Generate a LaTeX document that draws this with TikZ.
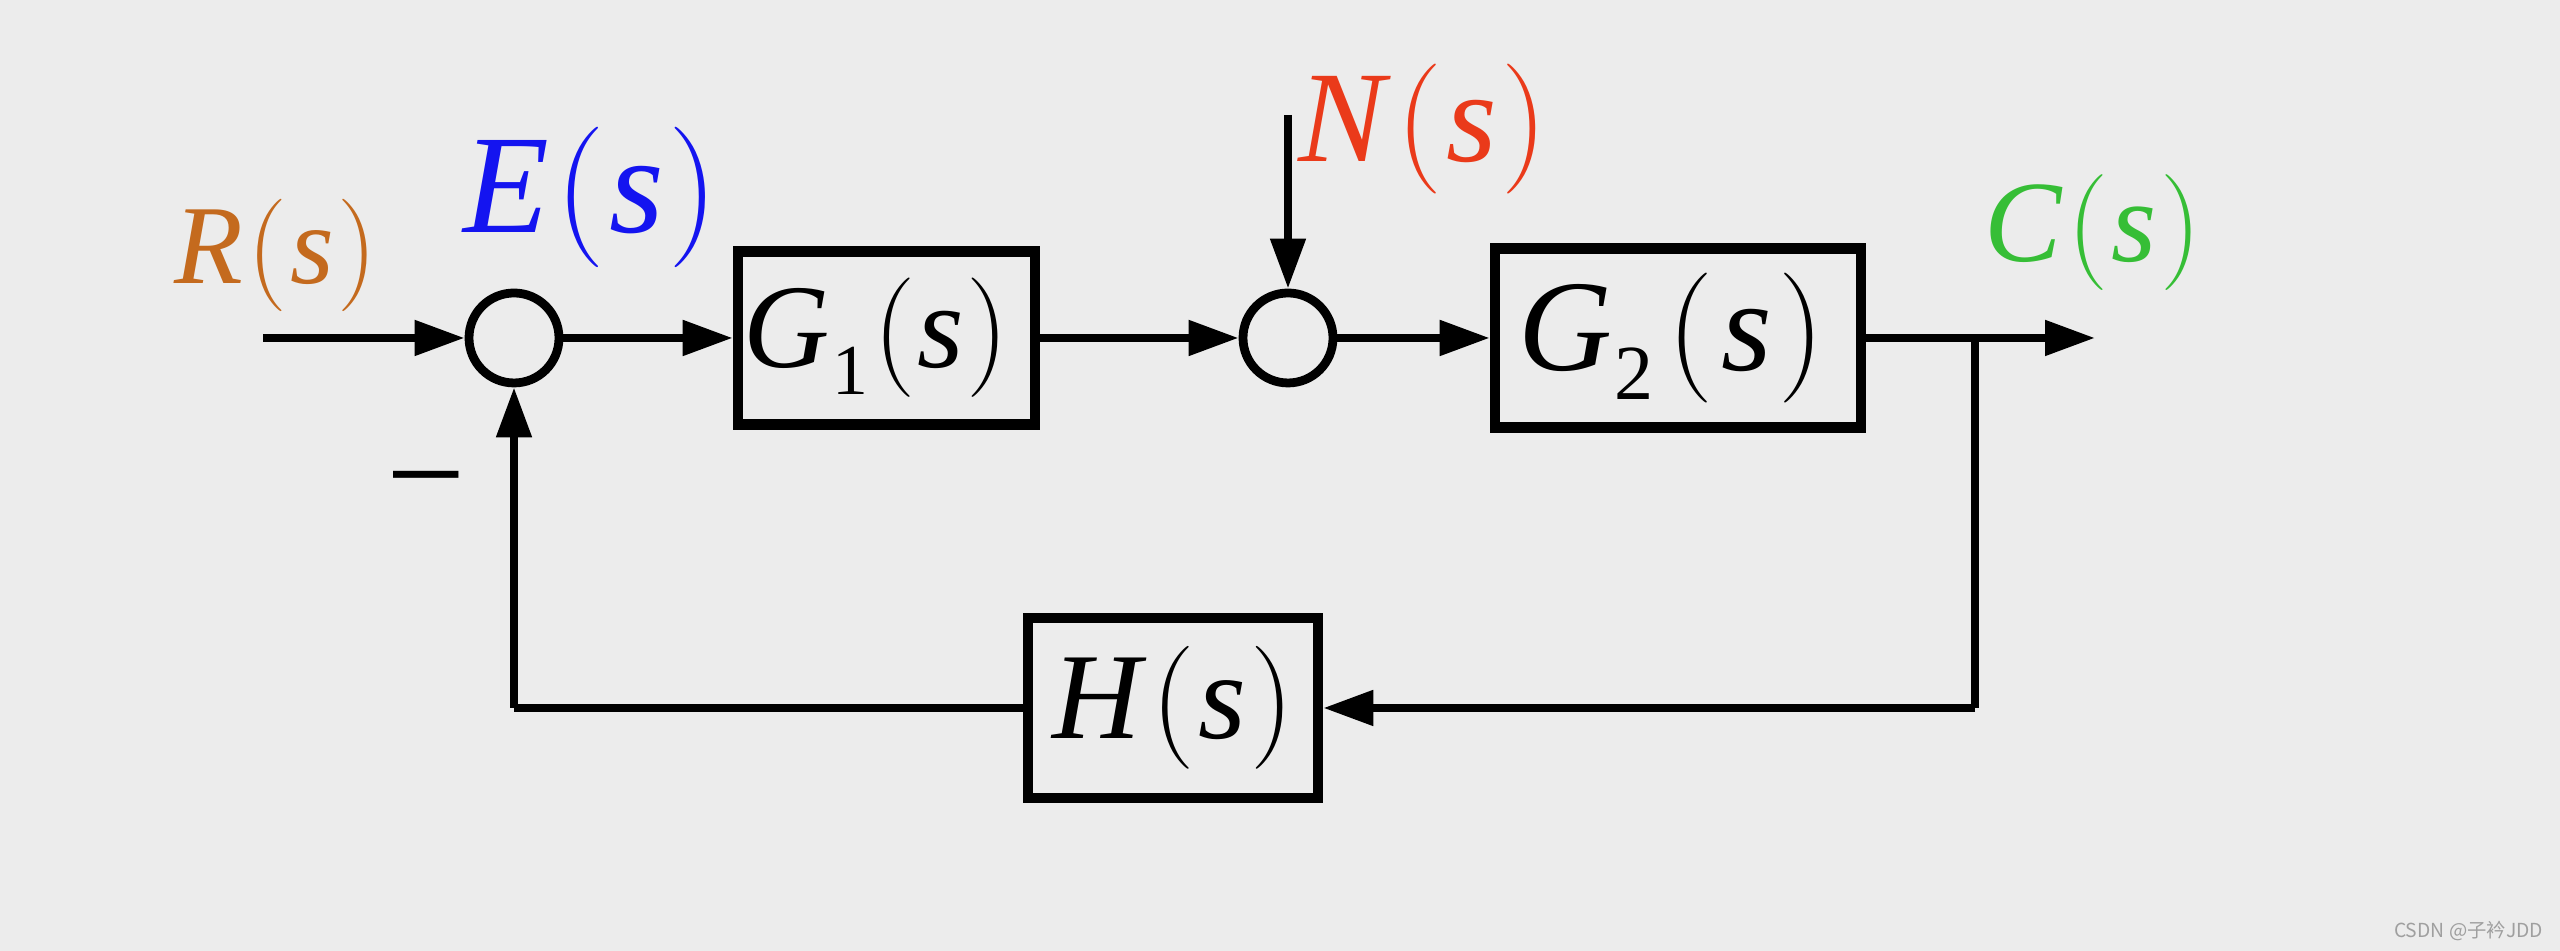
\RequirePackage{fix-cm}
\documentclass[tikz,border=0pt]{standalone}
\usepackage{fontspec}
\setmainfont{Liberation Serif}
\newfontfamily\cjkfont{Noto Sans CJK SC}
\usetikzlibrary{arrows.meta}

\definecolor{bggray}{HTML}{ECECEC}
\definecolor{rcol}{HTML}{C46A1E}
\definecolor{ecol}{HTML}{1414F0}
\definecolor{ncol}{HTML}{EA3A1A}
\definecolor{ccol}{HTML}{36BE36}

% thin brackets round the s
\newcommand{\ps}[1]{$($\kern#1\textit{s}\kern#1$)$}
% transfer function text: letter, subscript, gap
\newcommand{\tfs}[3]{\textit{#1}\kern.02em\raisebox{-.22em}{\fontsize{.6em}{.6em}\selectfont #2}\kern#3em\ps{.5\dimexpr#3em\relax}}
\newcommand{\sig}[1]{\textit{#1}\kern.04em\ps{.03em}}

\begin{document}
\begin{tikzpicture}[line width=2.3pt,
  >={Triangle[length=0.5cm,width=0.34cm]},
  block/.style={draw,line width=3pt,inner sep=0pt},
  sumpt/.style={draw,circle,line width=2.5pt,minimum size=0.9cm,inner sep=0pt},
  lab/.style={inner sep=0pt}]
\fill[bggray] (0,0) rectangle (25.6,9.51);
\useasboundingbox (0,0) rectangle (25.6,9.51);

% forward path
\coordinate (in) at (2.63,6.13);
\node[sumpt] (sum1) at (5.14,6.13) {};
\node[block,minimum width=2.97cm,minimum height=1.73cm,font=\fontsize{34}{40}\selectfont] (g1) at (8.865,6.13) {\tfs{G}{1}{.04}\kern.17em};
\node[sumpt] (sum2) at (12.88,6.13) {};
\coordinate (nin) at (12.88,8.36);
\node[block,minimum width=3.66cm,minimum height=1.79cm,font=\fontsize{37}{42}\selectfont] (g2) at (16.78,6.13) {\kern-.1em\tfs{G}{2}{.11}};
\coordinate (br) at (19.75,6.13);
\coordinate (out) at (20.95,6.13);

% feedback path
\node[block,minimum width=2.90cm,minimum height=1.80cm,font=\fontsize{35}{40}\selectfont] (h) at (11.73,2.43) {\sig{H}};
\coordinate (fbr) at (br |- h);
\coordinate (fbl) at (sum1 |- h);

\draw[->] (in) -- (sum1);
\draw[->] (sum1) -- (g1);
\draw[->] (g1) -- (sum2);
\draw[->] (nin) -- (sum2);
\draw[->] (sum2) -- (g2);
\draw[->] (g2) -- (out);
\draw (br) -- (fbr);
\draw[->] (fbr) -- (h);
\draw (h) -- (fbl);
\draw[->] (fbl) -- (sum1);

% signal labels
\node[lab,text=rcol,font=\fontsize{32}{36}\selectfont] (rlab) at (2.76,6.96) {\sig{R}};
\node[lab,text=ecol,font=\fontsize{40}{44}\selectfont] (elab) at (5.91,7.54) {\sig{E}};
\node[lab,text=ncol,font=\fontsize{37}{42}\selectfont] (nlab) at (14.23,8.22) {\sig{N}};
\node[lab,text=ccol,font=\fontsize{33}{38}\selectfont] (clab) at (20.93,7.18) {\sig{C}};
\node[lab,font=\fontsize{40}{44}\selectfont] (minus) at (4.265,4.55) {−};

\node[lab,text=gray!75,font=\cjkfont\fontsize{5.5}{6}\selectfont,anchor=east] (mark) at (25.47,0.20) {CSDN @子衿JDD};
\end{tikzpicture}
\end{document}
